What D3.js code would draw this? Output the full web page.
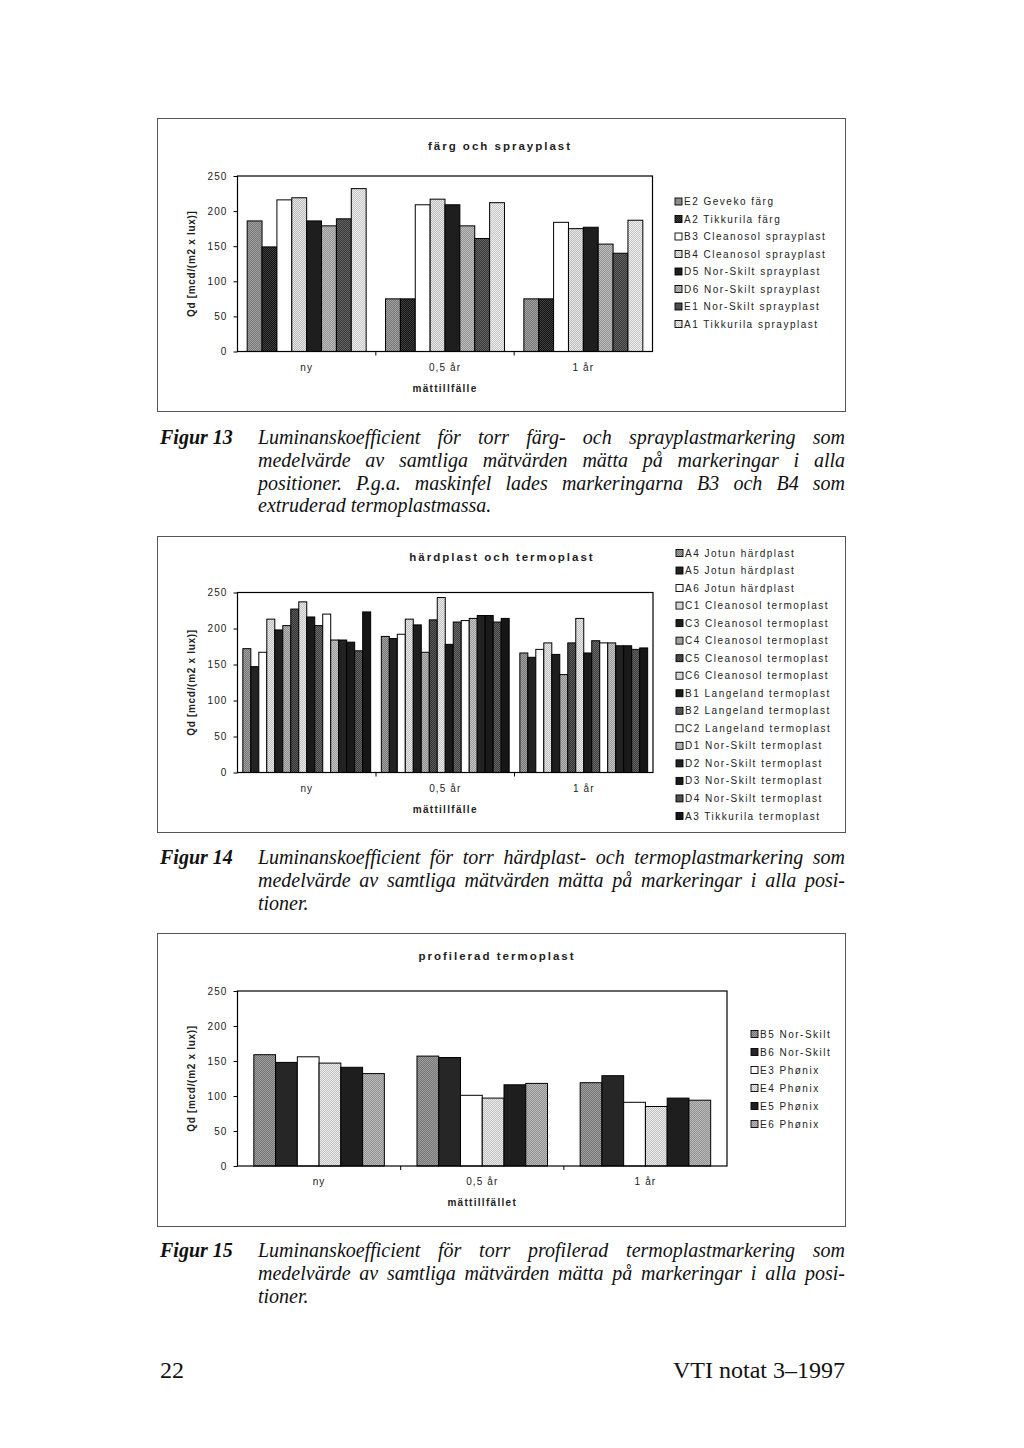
<!DOCTYPE html>
<html><head><meta charset="utf-8">
<script src="https://cdn.jsdelivr.net/npm/d3@7"></script>
<style>
body{margin:0;background:#fff;width:1024px;height:1448px;overflow:hidden}
svg{display:block}
.ax text{font-family:"Liberation Sans",Arial,sans-serif;font-size:10px;letter-spacing:1.1px;fill:#222}
.lg{font-family:"Liberation Sans",Arial,sans-serif;font-size:10px;letter-spacing:1.5px;fill:#222}
.ttl{font-family:"Liberation Sans",Arial,sans-serif;font-size:11.5px;font-weight:bold;letter-spacing:2px;fill:#222}
.xt{font-family:"Liberation Sans",Arial,sans-serif;font-size:10px;font-weight:bold;letter-spacing:1.3px;fill:#222}
.yt{font-family:"Liberation Sans",Arial,sans-serif;font-size:10px;font-weight:bold;letter-spacing:0.7px;fill:#222}
.cap{font-family:"Liberation Serif","Times New Roman",serif;font-style:italic;font-size:20px;fill:#111}
.fig{font-family:"Liberation Serif","Times New Roman",serif;font-style:italic;font-weight:bold;font-size:20px;fill:#111}
.foot{font-family:"Liberation Serif","Times New Roman",serif;font-size:24px;fill:#111}
</style></head><body>
<svg id="page" width="1024" height="1448"></svg>
<script>
// ---------- data ----------
const categories = ["ny", "0,5 år", "1 år"];
const yTickValues = [0, 50, 100, 150, 200, 250];

const fig13Series = ["E2 Geveko färg", "A2 Tikkurila färg", "B3 Cleanosol sprayplast", "B4 Cleanosol sprayplast",
  "D5 Nor-Skilt sprayplast", "D6 Nor-Skilt sprayplast", "E1 Nor-Skilt sprayplast", "A1 Tikkurila sprayplast"];
const fig13Values = [
  [186, 75, 75], [149, 75, 75], [216, 209, 184], [219, 217, 175],
  [186, 209, 177], [179, 179, 153], [189, 161, 140], [232, 212, 187]];
const fig13Fills = ["#8c8c8c", "#2a2a2a", "#ffffff", "#d2d2d2", "#1e1e1e", "#a8a8a8", "#4e4e4e", "#dadada"];

const fig14Series = ["A4 Jotun härdplast", "A5 Jotun härdplast", "A6 Jotun härdplast", "C1 Cleanosol termoplast",
  "C3 Cleanosol termoplast", "C4 Cleanosol termoplast", "C5 Cleanosol termoplast", "C6 Cleanosol termoplast",
  "B1 Langeland termoplast", "B2 Langeland termoplast", "C2 Langeland termoplast", "D1 Nor-Skilt termoplast",
  "D2 Nor-Skilt termoplast", "D3 Nor-Skilt termoplast", "D4 Nor-Skilt termoplast", "A3 Tikkurila termoplast"];
const fig14Values = [
  [172, 189, 166], [147, 186, 160], [167, 192, 171], [213, 213, 180],
  [198, 205, 164], [204, 167, 136], [227, 212, 180], [237, 243, 214],
  [216, 178, 166], [204, 209, 183], [220, 211, 180], [184, 214, 180],
  [184, 218, 176], [181, 218, 176], [169, 209, 171], [223, 214, 173]];
const fig14Fills = ["#8c8c8c", "#222222", "#ffffff", "#d4d4d4", "#1e1e1e", "#a2a2a2", "#474747", "#d6d6d6",
  "#1a1a1a", "#555555", "#ffffff", "#b0b0b0", "#222222", "#1a1a1a", "#505050", "#161616"];

const fig15Series = ["B5 Nor-Skilt", "B6 Nor-Skilt", "E3 Phønix", "E4 Phønix", "E5 Phønix", "E6 Phønix"];
const fig15Values = [
  [159, 157, 119], [148, 155, 129], [156, 101, 91], [147, 97, 85], [141, 116, 97], [132, 118, 94]];
const fig15Fills = ["#8a8a8a", "#262626", "#ffffff", "#d6d6d6", "#1e1e1e", "#a6a6a6"];

const fig13Caption = ["Luminanskoefficient för torr färg- och sprayplastmarkering som",
  "medelvärde av samtliga mätvärden mätta på markeringar i alla",
  "positioner. P.g.a. maskinfel lades markeringarna B3 och B4 som",
  "extruderad termoplastmassa."];
const fig14Caption = ["Luminanskoefficient för torr härdplast- och termoplastmarkering som",
  "medelvärde av samtliga mätvärden mätta på markeringar i alla posi-",
  "tioner."];
const fig15Caption = ["Luminanskoefficient för torr profilerad termoplastmarkering som",
  "medelvärde av samtliga mätvärden mätta på markeringar i alla posi-",
  "tioner."];

// ---------- drawing ----------
const svg = d3.select("#page");
const defs = svg.append("defs");
const made = {};
function paint(color) {
  const c = d3.rgb(color);
  const lum = (c.r + c.g + c.b) / 3;
  if (lum > 245 || lum < 40) return color;
  const id = "p" + color.slice(1);
  if (!made[id]) {
    made[id] = true;
    const p = defs.append("pattern").attr("id", id).attr("patternUnits", "userSpaceOnUse")
      .attr("width", 2).attr("height", 2);
    const a = d3.rgb(Math.min(255, c.r + 22), Math.min(255, c.g + 22), Math.min(255, c.b + 22));
    const b = d3.rgb(c.r - 22, c.g - 22, c.b - 22);
    p.append("rect").attr("width", 2).attr("height", 2).attr("fill", b.formatHex());
    p.append("rect").attr("width", 1).attr("height", 1).attr("fill", a.formatHex());
    p.append("rect").attr("x", 1).attr("y", 1).attr("width", 1).attr("height", 1).attr("fill", a.formatHex());
  }
  return `url(#${id})`;
}

function drawChart(cfg) {
  const g = svg.append("g");
  const f = cfg.frame;
  g.append("rect").attr("x", f[0] + 0.5).attr("y", f[1] + 0.5).attr("width", f[2] - f[0]).attr("height", f[3] - f[1])
    .attr("fill", "none").attr("stroke", "#555").attr("stroke-width", 1);

  const p = cfg.plot;
  const x0 = d3.scaleBand().domain(categories).range([p.left, p.right])
    .paddingInner(cfg.padding).paddingOuter(cfg.padding / 2);
  const x1 = d3.scaleBand().domain(cfg.series).range([0, x0.bandwidth()]);
  const y = d3.scaleLinear().domain([0, 250]).range([p.bottom, p.top]);

  cfg.series.forEach((s, si) => {
    g.append("g").selectAll("rect").data(cfg.values[si]).join("rect")
      .attr("x", (d, ci) => x0(categories[ci]) + x1(s))
      .attr("y", d => y(d))
      .attr("width", x1.bandwidth())
      .attr("height", d => y(0) - y(d))
      .attr("fill", paint(cfg.fills[si]))
      .attr("stroke", "#000").attr("stroke-width", 1);
  });

  g.append("rect").attr("x", p.left).attr("y", p.top).attr("width", p.right - p.left).attr("height", p.bottom - p.top)
    .attr("fill", "none").attr("stroke", "#000").attr("stroke-width", 1.2);

  const ya = g.append("g").attr("class", "ax").attr("transform", `translate(${p.left},0)`)
    .call(d3.axisLeft(y).tickValues(yTickValues).tickSize(4).tickPadding(6));
  ya.select(".domain").remove();
  ya.selectAll("line").attr("stroke", "#000");

  const xa = g.append("g").attr("class", "ax").attr("transform", `translate(0,${p.bottom})`)
    .call(d3.axisBottom(x0).tickSize(0).tickPadding(12));
  xa.select(".domain").remove();
  const half = x0.step() * cfg.padding / 2;
  g.append("g").selectAll("line").data(categories.slice(1)).join("line")
    .attr("x1", d => x0(d) - half).attr("x2", d => x0(d) - half)
    .attr("y1", p.bottom).attr("y2", p.bottom + 4).attr("stroke", "#000");

  g.append("text").attr("class", "ttl").attr("x", cfg.titleX).attr("y", cfg.titleY)
    .attr("text-anchor", "middle").text(cfg.title);
  g.append("text").attr("class", "xt").attr("x", (p.left + p.right) / 2).attr("y", p.bottom + 40)
    .attr("text-anchor", "middle").text(cfg.xTitle);
  g.append("text").attr("class", "yt")
    .attr("transform", `translate(${cfg.yTitleX},${(p.top + p.bottom) / 2}) rotate(-90)`)
    .attr("text-anchor", "middle").text("Qd [mcd/(m2 x lux)]");

  const L = cfg.legend;
  const li = g.append("g").selectAll("g").data(cfg.series).join("g")
    .attr("transform", (d, i) => `translate(${L.x},${L.y + i * L.step})`);
  li.append("rect").attr("x", 0).attr("y", -3.5).attr("width", 7).attr("height", 7)
    .attr("fill", (d, i) => paint(cfg.fills[i])).attr("stroke", "#000").attr("stroke-width", 0.9);
  li.append("text").attr("class", "lg").attr("x", 9).attr("y", 3.6).text(d => d);
}

drawChart({
  frame: [157, 118, 845, 411],
  plot: { left: 237.5, right: 652.5, top: 176, bottom: 351.5 },
  padding: 0.14,
  series: fig13Series, values: fig13Values, fills: fig13Fills,
  title: "färg och sprayplast", titleX: 500, titleY: 150,
  xTitle: "mättillfälle", yTitleX: 195,
  legend: { x: 675, y: 201.5, step: 17.5 }
});
drawChart({
  frame: [157, 536, 845, 832],
  plot: { left: 237.5, right: 653, top: 592.5, bottom: 772.5 },
  padding: 0.077,
  series: fig14Series, values: fig14Values, fills: fig14Fills,
  title: "härdplast och termoplast", titleX: 502, titleY: 561,
  xTitle: "mättillfälle", yTitleX: 195,
  legend: { x: 676, y: 553, step: 17.53 }
});
drawChart({
  frame: [157, 933, 845, 1226],
  plot: { left: 237.5, right: 727, top: 991, bottom: 1166 },
  padding: 0.2,
  series: fig15Series, values: fig15Values, fills: fig15Fills,
  title: "profilerad termoplast", titleX: 497, titleY: 960,
  xTitle: "mättillfället", yTitleX: 195,
  legend: { x: 751, y: 1034, step: 18 }
});

function caption(label, lines, y0) {
  const g = svg.append("g");
  g.append("text").attr("class", "fig").attr("x", 160).attr("y", y0).text(label);
  lines.forEach((line, li) => {
    const y = y0 + li * 22.8;
    const words = line.split(" ");
    const nodes = words.map(w => g.append("text").attr("class", "cap").attr("y", y).text(w));
    const widths = nodes.map(n => n.node().getComputedTextLength());
    const total = d3.sum(widths);
    const last = li === lines.length - 1;
    let gap = (!last && words.length > 1) ? (845 - 258 - total) / (words.length - 1) : 5;
    if (gap < 3) gap = 3;
    let cx = 258;
    nodes.forEach((n, i) => { n.attr("x", cx); cx += widths[i] + gap; });
  });
}
caption("Figur 13", fig13Caption, 444);
caption("Figur 14", fig14Caption, 864);
caption("Figur 15", fig15Caption, 1257);

svg.append("text").attr("class", "foot").attr("x", 160).attr("y", 1378).text("22");
svg.append("text").attr("class", "foot").attr("x", 845).attr("y", 1378).attr("text-anchor", "end").text("VTI notat 3–1997");
</script></body></html>
